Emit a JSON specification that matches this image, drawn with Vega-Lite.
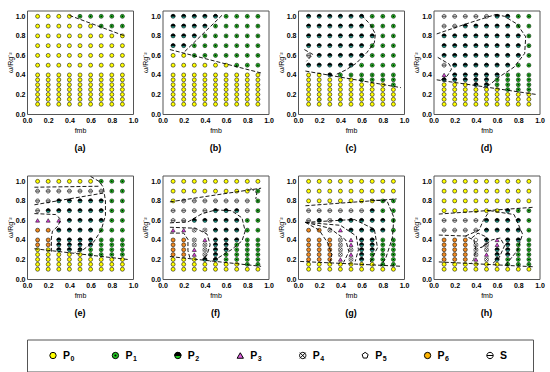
{
"$schema":"https://vega.github.io/schema/vega-lite/v6.json",
"padding":{"left":5,"top":9.5,"right":5,"bottom":5},
"config":{"font":"Liberation Sans","view":{"stroke":"#555","strokeWidth":1},
"axis":{"labelFont":"Liberation Sans","titleFont":"Liberation Sans","labelFontWeight":"bold","labelFontSize":7,"titleFontSize":7,"titleFontWeight":"normal","ticks":false,"domain":false,"grid":false,"labelPadding":2,"labelFlush":false,"labelOverlap":false,"labelColor":"#000","titleColor":"#000"}},
"spacing":20,
"resolve":{"scale":{"shape":"independent","fill":"independent"}},
"vconcat":[
{
"data":{"values":[
{"p":"a","x":0.1,"y":1,"s":"0"},{"p":"a","x":0.2,"y":1,"s":"0"},{"p":"a","x":0.3,"y":1,"s":"0"},{"p":"a","x":0.4,"y":1,"s":"0"},{"p":"a","x":0.5,"y":1,"s":"1"},{"p":"a","x":0.6,"y":1,"s":"1"},{"p":"a","x":0.7,"y":1,"s":"1"},{"p":"a","x":0.8,"y":1,"s":"1"},{"p":"a","x":0.9,"y":1,"s":"1"},
{"p":"a","x":0.1,"y":0.9,"s":"0"},{"p":"a","x":0.2,"y":0.9,"s":"0"},{"p":"a","x":0.3,"y":0.9,"s":"0"},{"p":"a","x":0.4,"y":0.9,"s":"0"},{"p":"a","x":0.5,"y":0.9,"s":"0"},{"p":"a","x":0.6,"y":0.9,"s":"0"},{"p":"a","x":0.7,"y":0.9,"s":"1"},{"p":"a","x":0.8,"y":0.9,"s":"1"},{"p":"a","x":0.9,"y":0.9,"s":"1"},
{"p":"a","x":0.1,"y":0.8,"s":"0"},{"p":"a","x":0.2,"y":0.8,"s":"0"},{"p":"a","x":0.3,"y":0.8,"s":"0"},{"p":"a","x":0.4,"y":0.8,"s":"0"},{"p":"a","x":0.5,"y":0.8,"s":"0"},{"p":"a","x":0.6,"y":0.8,"s":"0"},{"p":"a","x":0.7,"y":0.8,"s":"0"},{"p":"a","x":0.8,"y":0.8,"s":"0"},{"p":"a","x":0.9,"y":0.8,"s":"0"},
{"p":"a","x":0.1,"y":0.7,"s":"0"},{"p":"a","x":0.2,"y":0.7,"s":"0"},{"p":"a","x":0.3,"y":0.7,"s":"0"},{"p":"a","x":0.4,"y":0.7,"s":"0"},{"p":"a","x":0.5,"y":0.7,"s":"0"},{"p":"a","x":0.6,"y":0.7,"s":"0"},{"p":"a","x":0.7,"y":0.7,"s":"0"},{"p":"a","x":0.8,"y":0.7,"s":"0"},{"p":"a","x":0.9,"y":0.7,"s":"0"},
{"p":"a","x":0.1,"y":0.6,"s":"0"},{"p":"a","x":0.2,"y":0.6,"s":"0"},{"p":"a","x":0.3,"y":0.6,"s":"0"},{"p":"a","x":0.4,"y":0.6,"s":"0"},{"p":"a","x":0.5,"y":0.6,"s":"0"},{"p":"a","x":0.6,"y":0.6,"s":"0"},{"p":"a","x":0.7,"y":0.6,"s":"0"},{"p":"a","x":0.8,"y":0.6,"s":"0"},{"p":"a","x":0.9,"y":0.6,"s":"0"},
{"p":"a","x":0.1,"y":0.5,"s":"0"},{"p":"a","x":0.2,"y":0.5,"s":"0"},{"p":"a","x":0.3,"y":0.5,"s":"0"},{"p":"a","x":0.4,"y":0.5,"s":"0"},{"p":"a","x":0.5,"y":0.5,"s":"0"},{"p":"a","x":0.6,"y":0.5,"s":"0"},{"p":"a","x":0.7,"y":0.5,"s":"0"},{"p":"a","x":0.8,"y":0.5,"s":"0"},{"p":"a","x":0.9,"y":0.5,"s":"0"},
{"p":"a","x":0.1,"y":0.4,"s":"0"},{"p":"a","x":0.2,"y":0.4,"s":"0"},{"p":"a","x":0.3,"y":0.4,"s":"0"},{"p":"a","x":0.4,"y":0.4,"s":"0"},{"p":"a","x":0.5,"y":0.4,"s":"0"},{"p":"a","x":0.6,"y":0.4,"s":"0"},{"p":"a","x":0.7,"y":0.4,"s":"0"},{"p":"a","x":0.8,"y":0.4,"s":"0"},{"p":"a","x":0.9,"y":0.4,"s":"0"},
{"p":"a","x":0.1,"y":0.35,"s":"0"},{"p":"a","x":0.2,"y":0.35,"s":"0"},{"p":"a","x":0.3,"y":0.35,"s":"0"},{"p":"a","x":0.4,"y":0.35,"s":"0"},{"p":"a","x":0.5,"y":0.35,"s":"0"},{"p":"a","x":0.6,"y":0.35,"s":"0"},{"p":"a","x":0.7,"y":0.35,"s":"0"},{"p":"a","x":0.8,"y":0.35,"s":"0"},{"p":"a","x":0.9,"y":0.35,"s":"0"},
{"p":"a","x":0.1,"y":0.3,"s":"0"},{"p":"a","x":0.2,"y":0.3,"s":"0"},{"p":"a","x":0.3,"y":0.3,"s":"0"},{"p":"a","x":0.4,"y":0.3,"s":"0"},{"p":"a","x":0.5,"y":0.3,"s":"0"},{"p":"a","x":0.6,"y":0.3,"s":"0"},{"p":"a","x":0.7,"y":0.3,"s":"0"},{"p":"a","x":0.8,"y":0.3,"s":"0"},{"p":"a","x":0.9,"y":0.3,"s":"0"},
{"p":"a","x":0.1,"y":0.25,"s":"0"},{"p":"a","x":0.2,"y":0.25,"s":"0"},{"p":"a","x":0.3,"y":0.25,"s":"0"},{"p":"a","x":0.4,"y":0.25,"s":"0"},{"p":"a","x":0.5,"y":0.25,"s":"0"},{"p":"a","x":0.6,"y":0.25,"s":"0"},{"p":"a","x":0.7,"y":0.25,"s":"0"},{"p":"a","x":0.8,"y":0.25,"s":"0"},{"p":"a","x":0.9,"y":0.25,"s":"0"},
{"p":"a","x":0.1,"y":0.2,"s":"0"},{"p":"a","x":0.2,"y":0.2,"s":"0"},{"p":"a","x":0.3,"y":0.2,"s":"0"},{"p":"a","x":0.4,"y":0.2,"s":"0"},{"p":"a","x":0.5,"y":0.2,"s":"0"},{"p":"a","x":0.6,"y":0.2,"s":"0"},{"p":"a","x":0.7,"y":0.2,"s":"0"},{"p":"a","x":0.8,"y":0.2,"s":"0"},{"p":"a","x":0.9,"y":0.2,"s":"0"},
{"p":"a","x":0.1,"y":0.15,"s":"0"},{"p":"a","x":0.2,"y":0.15,"s":"0"},{"p":"a","x":0.3,"y":0.15,"s":"0"},{"p":"a","x":0.4,"y":0.15,"s":"0"},{"p":"a","x":0.5,"y":0.15,"s":"0"},{"p":"a","x":0.6,"y":0.15,"s":"0"},{"p":"a","x":0.7,"y":0.15,"s":"0"},{"p":"a","x":0.8,"y":0.15,"s":"0"},{"p":"a","x":0.9,"y":0.15,"s":"0"},
{"p":"a","x":0.1,"y":0.1,"s":"0"},{"p":"a","x":0.2,"y":0.1,"s":"0"},{"p":"a","x":0.3,"y":0.1,"s":"0"},{"p":"a","x":0.4,"y":0.1,"s":"0"},{"p":"a","x":0.5,"y":0.1,"s":"0"},{"p":"a","x":0.6,"y":0.1,"s":"0"},{"p":"a","x":0.7,"y":0.1,"s":"0"},{"p":"a","x":0.8,"y":0.1,"s":"0"},{"p":"a","x":0.9,"y":0.1,"s":"0"},

{"p":"b","x":0.1,"y":1,"s":"2"},{"p":"b","x":0.2,"y":1,"s":"2"},{"p":"b","x":0.3,"y":1,"s":"2"},{"p":"b","x":0.4,"y":1,"s":"2"},{"p":"b","x":0.5,"y":1,"s":"2"},{"p":"b","x":0.6,"y":1,"s":"1"},{"p":"b","x":0.7,"y":1,"s":"1"},{"p":"b","x":0.8,"y":1,"s":"1"},{"p":"b","x":0.9,"y":1,"s":"1"},
{"p":"b","x":0.1,"y":0.9,"s":"2"},{"p":"b","x":0.2,"y":0.9,"s":"2"},{"p":"b","x":0.3,"y":0.9,"s":"2"},{"p":"b","x":0.4,"y":0.9,"s":"2"},{"p":"b","x":0.5,"y":0.9,"s":"1"},{"p":"b","x":0.6,"y":0.9,"s":"1"},{"p":"b","x":0.7,"y":0.9,"s":"1"},{"p":"b","x":0.8,"y":0.9,"s":"1"},{"p":"b","x":0.9,"y":0.9,"s":"1"},
{"p":"b","x":0.1,"y":0.8,"s":"2"},{"p":"b","x":0.2,"y":0.8,"s":"2"},{"p":"b","x":0.3,"y":0.8,"s":"2"},{"p":"b","x":0.4,"y":0.8,"s":"1"},{"p":"b","x":0.5,"y":0.8,"s":"1"},{"p":"b","x":0.6,"y":0.8,"s":"1"},{"p":"b","x":0.7,"y":0.8,"s":"1"},{"p":"b","x":0.8,"y":0.8,"s":"1"},{"p":"b","x":0.9,"y":0.8,"s":"1"},
{"p":"b","x":0.1,"y":0.7,"s":"2"},{"p":"b","x":0.2,"y":0.7,"s":"2"},{"p":"b","x":0.3,"y":0.7,"s":"1"},{"p":"b","x":0.4,"y":0.7,"s":"1"},{"p":"b","x":0.5,"y":0.7,"s":"1"},{"p":"b","x":0.6,"y":0.7,"s":"1"},{"p":"b","x":0.7,"y":0.7,"s":"1"},{"p":"b","x":0.8,"y":0.7,"s":"1"},{"p":"b","x":0.9,"y":0.7,"s":"1"},
{"p":"b","x":0.1,"y":0.6,"s":"0"},{"p":"b","x":0.2,"y":0.6,"s":"0"},{"p":"b","x":0.3,"y":0.6,"s":"1"},{"p":"b","x":0.4,"y":0.6,"s":"1"},{"p":"b","x":0.5,"y":0.6,"s":"1"},{"p":"b","x":0.6,"y":0.6,"s":"1"},{"p":"b","x":0.7,"y":0.6,"s":"1"},{"p":"b","x":0.8,"y":0.6,"s":"1"},{"p":"b","x":0.9,"y":0.6,"s":"1"},
{"p":"b","x":0.1,"y":0.5,"s":"0"},{"p":"b","x":0.2,"y":0.5,"s":"0"},{"p":"b","x":0.3,"y":0.5,"s":"0"},{"p":"b","x":0.4,"y":0.5,"s":"0"},{"p":"b","x":0.5,"y":0.5,"s":"0"},{"p":"b","x":0.6,"y":0.5,"s":"0"},{"p":"b","x":0.7,"y":0.5,"s":"1"},{"p":"b","x":0.8,"y":0.5,"s":"1"},{"p":"b","x":0.9,"y":0.5,"s":"1"},
{"p":"b","x":0.1,"y":0.4,"s":"0"},{"p":"b","x":0.2,"y":0.4,"s":"0"},{"p":"b","x":0.3,"y":0.4,"s":"0"},{"p":"b","x":0.4,"y":0.4,"s":"0"},{"p":"b","x":0.5,"y":0.4,"s":"0"},{"p":"b","x":0.6,"y":0.4,"s":"0"},{"p":"b","x":0.7,"y":0.4,"s":"0"},{"p":"b","x":0.8,"y":0.4,"s":"0"},{"p":"b","x":0.9,"y":0.4,"s":"0"},
{"p":"b","x":0.1,"y":0.35,"s":"0"},{"p":"b","x":0.2,"y":0.35,"s":"0"},{"p":"b","x":0.3,"y":0.35,"s":"0"},{"p":"b","x":0.4,"y":0.35,"s":"0"},{"p":"b","x":0.5,"y":0.35,"s":"0"},{"p":"b","x":0.6,"y":0.35,"s":"0"},{"p":"b","x":0.7,"y":0.35,"s":"0"},{"p":"b","x":0.8,"y":0.35,"s":"0"},{"p":"b","x":0.9,"y":0.35,"s":"0"},
{"p":"b","x":0.1,"y":0.3,"s":"0"},{"p":"b","x":0.2,"y":0.3,"s":"0"},{"p":"b","x":0.3,"y":0.3,"s":"0"},{"p":"b","x":0.4,"y":0.3,"s":"0"},{"p":"b","x":0.5,"y":0.3,"s":"0"},{"p":"b","x":0.6,"y":0.3,"s":"0"},{"p":"b","x":0.7,"y":0.3,"s":"0"},{"p":"b","x":0.8,"y":0.3,"s":"0"},{"p":"b","x":0.9,"y":0.3,"s":"0"},
{"p":"b","x":0.1,"y":0.25,"s":"0"},{"p":"b","x":0.2,"y":0.25,"s":"0"},{"p":"b","x":0.3,"y":0.25,"s":"0"},{"p":"b","x":0.4,"y":0.25,"s":"0"},{"p":"b","x":0.5,"y":0.25,"s":"0"},{"p":"b","x":0.6,"y":0.25,"s":"0"},{"p":"b","x":0.7,"y":0.25,"s":"0"},{"p":"b","x":0.8,"y":0.25,"s":"0"},{"p":"b","x":0.9,"y":0.25,"s":"0"},
{"p":"b","x":0.1,"y":0.2,"s":"0"},{"p":"b","x":0.2,"y":0.2,"s":"0"},{"p":"b","x":0.3,"y":0.2,"s":"0"},{"p":"b","x":0.4,"y":0.2,"s":"0"},{"p":"b","x":0.5,"y":0.2,"s":"0"},{"p":"b","x":0.6,"y":0.2,"s":"0"},{"p":"b","x":0.7,"y":0.2,"s":"0"},{"p":"b","x":0.8,"y":0.2,"s":"0"},{"p":"b","x":0.9,"y":0.2,"s":"0"},
{"p":"b","x":0.1,"y":0.15,"s":"0"},{"p":"b","x":0.2,"y":0.15,"s":"0"},{"p":"b","x":0.3,"y":0.15,"s":"0"},{"p":"b","x":0.4,"y":0.15,"s":"0"},{"p":"b","x":0.5,"y":0.15,"s":"0"},{"p":"b","x":0.6,"y":0.15,"s":"0"},{"p":"b","x":0.7,"y":0.15,"s":"0"},{"p":"b","x":0.8,"y":0.15,"s":"0"},{"p":"b","x":0.9,"y":0.15,"s":"0"},
{"p":"b","x":0.1,"y":0.1,"s":"0"},{"p":"b","x":0.2,"y":0.1,"s":"0"},{"p":"b","x":0.3,"y":0.1,"s":"0"},{"p":"b","x":0.4,"y":0.1,"s":"0"},{"p":"b","x":0.5,"y":0.1,"s":"0"},{"p":"b","x":0.6,"y":0.1,"s":"0"},{"p":"b","x":0.7,"y":0.1,"s":"0"},{"p":"b","x":0.8,"y":0.1,"s":"0"},{"p":"b","x":0.9,"y":0.1,"s":"0"},

{"p":"c","x":0.1,"y":1,"s":"2"},{"p":"c","x":0.2,"y":1,"s":"2"},{"p":"c","x":0.3,"y":1,"s":"2"},{"p":"c","x":0.4,"y":1,"s":"2"},{"p":"c","x":0.5,"y":1,"s":"2"},{"p":"c","x":0.6,"y":1,"s":"2"},{"p":"c","x":0.7,"y":1,"s":"1"},{"p":"c","x":0.8,"y":1,"s":"1"},{"p":"c","x":0.9,"y":1,"s":"1"},
{"p":"c","x":0.1,"y":0.9,"s":"2"},{"p":"c","x":0.2,"y":0.9,"s":"2"},{"p":"c","x":0.3,"y":0.9,"s":"2"},{"p":"c","x":0.4,"y":0.9,"s":"2"},{"p":"c","x":0.5,"y":0.9,"s":"2"},{"p":"c","x":0.6,"y":0.9,"s":"2"},{"p":"c","x":0.7,"y":0.9,"s":"1"},{"p":"c","x":0.8,"y":0.9,"s":"1"},{"p":"c","x":0.9,"y":0.9,"s":"1"},
{"p":"c","x":0.1,"y":0.8,"s":"2"},{"p":"c","x":0.2,"y":0.8,"s":"2"},{"p":"c","x":0.3,"y":0.8,"s":"2"},{"p":"c","x":0.4,"y":0.8,"s":"2"},{"p":"c","x":0.5,"y":0.8,"s":"2"},{"p":"c","x":0.6,"y":0.8,"s":"2"},{"p":"c","x":0.7,"y":0.8,"s":"2"},{"p":"c","x":0.8,"y":0.8,"s":"1"},{"p":"c","x":0.9,"y":0.8,"s":"1"},
{"p":"c","x":0.1,"y":0.7,"s":"2"},{"p":"c","x":0.2,"y":0.7,"s":"2"},{"p":"c","x":0.3,"y":0.7,"s":"2"},{"p":"c","x":0.4,"y":0.7,"s":"2"},{"p":"c","x":0.5,"y":0.7,"s":"2"},{"p":"c","x":0.6,"y":0.7,"s":"2"},{"p":"c","x":0.7,"y":0.7,"s":"1"},{"p":"c","x":0.8,"y":0.7,"s":"1"},{"p":"c","x":0.9,"y":0.7,"s":"1"},
{"p":"c","x":0.1,"y":0.6,"s":"S"},{"p":"c","x":0.2,"y":0.6,"s":"2"},{"p":"c","x":0.3,"y":0.6,"s":"2"},{"p":"c","x":0.4,"y":0.6,"s":"2"},{"p":"c","x":0.5,"y":0.6,"s":"2"},{"p":"c","x":0.6,"y":0.6,"s":"2"},{"p":"c","x":0.7,"y":0.6,"s":"1"},{"p":"c","x":0.8,"y":0.6,"s":"1"},{"p":"c","x":0.9,"y":0.6,"s":"1"},
{"p":"c","x":0.1,"y":0.5,"s":"2"},{"p":"c","x":0.2,"y":0.5,"s":"2"},{"p":"c","x":0.3,"y":0.5,"s":"2"},{"p":"c","x":0.4,"y":0.5,"s":"2"},{"p":"c","x":0.5,"y":0.5,"s":"2"},{"p":"c","x":0.6,"y":0.5,"s":"1"},{"p":"c","x":0.7,"y":0.5,"s":"1"},{"p":"c","x":0.8,"y":0.5,"s":"1"},{"p":"c","x":0.9,"y":0.5,"s":"1"},
{"p":"c","x":0.1,"y":0.4,"s":"0"},{"p":"c","x":0.2,"y":0.4,"s":"0"},{"p":"c","x":0.3,"y":0.4,"s":"2"},{"p":"c","x":0.4,"y":0.4,"s":"1"},{"p":"c","x":0.5,"y":0.4,"s":"1"},{"p":"c","x":0.6,"y":0.4,"s":"1"},{"p":"c","x":0.7,"y":0.4,"s":"1"},{"p":"c","x":0.8,"y":0.4,"s":"1"},{"p":"c","x":0.9,"y":0.4,"s":"1"},
{"p":"c","x":0.1,"y":0.35,"s":"0"},{"p":"c","x":0.2,"y":0.35,"s":"0"},{"p":"c","x":0.3,"y":0.35,"s":"0"},{"p":"c","x":0.4,"y":0.35,"s":"0"},{"p":"c","x":0.5,"y":0.35,"s":"0"},{"p":"c","x":0.6,"y":0.35,"s":"1"},{"p":"c","x":0.7,"y":0.35,"s":"1"},{"p":"c","x":0.8,"y":0.35,"s":"1"},{"p":"c","x":0.9,"y":0.35,"s":"1"},
{"p":"c","x":0.1,"y":0.3,"s":"0"},{"p":"c","x":0.2,"y":0.3,"s":"0"},{"p":"c","x":0.3,"y":0.3,"s":"0"},{"p":"c","x":0.4,"y":0.3,"s":"0"},{"p":"c","x":0.5,"y":0.3,"s":"0"},{"p":"c","x":0.6,"y":0.3,"s":"0"},{"p":"c","x":0.7,"y":0.3,"s":"0"},{"p":"c","x":0.8,"y":0.3,"s":"0"},{"p":"c","x":0.9,"y":0.3,"s":"1"},
{"p":"c","x":0.1,"y":0.25,"s":"0"},{"p":"c","x":0.2,"y":0.25,"s":"0"},{"p":"c","x":0.3,"y":0.25,"s":"0"},{"p":"c","x":0.4,"y":0.25,"s":"0"},{"p":"c","x":0.5,"y":0.25,"s":"0"},{"p":"c","x":0.6,"y":0.25,"s":"0"},{"p":"c","x":0.7,"y":0.25,"s":"0"},{"p":"c","x":0.8,"y":0.25,"s":"0"},{"p":"c","x":0.9,"y":0.25,"s":"0"},
{"p":"c","x":0.1,"y":0.2,"s":"0"},{"p":"c","x":0.2,"y":0.2,"s":"0"},{"p":"c","x":0.3,"y":0.2,"s":"0"},{"p":"c","x":0.4,"y":0.2,"s":"0"},{"p":"c","x":0.5,"y":0.2,"s":"0"},{"p":"c","x":0.6,"y":0.2,"s":"0"},{"p":"c","x":0.7,"y":0.2,"s":"0"},{"p":"c","x":0.8,"y":0.2,"s":"0"},{"p":"c","x":0.9,"y":0.2,"s":"0"},
{"p":"c","x":0.1,"y":0.15,"s":"0"},{"p":"c","x":0.2,"y":0.15,"s":"0"},{"p":"c","x":0.3,"y":0.15,"s":"0"},{"p":"c","x":0.4,"y":0.15,"s":"0"},{"p":"c","x":0.5,"y":0.15,"s":"0"},{"p":"c","x":0.6,"y":0.15,"s":"0"},{"p":"c","x":0.7,"y":0.15,"s":"0"},{"p":"c","x":0.8,"y":0.15,"s":"0"},{"p":"c","x":0.9,"y":0.15,"s":"0"},
{"p":"c","x":0.1,"y":0.1,"s":"0"},{"p":"c","x":0.2,"y":0.1,"s":"0"},{"p":"c","x":0.3,"y":0.1,"s":"0"},{"p":"c","x":0.4,"y":0.1,"s":"0"},{"p":"c","x":0.5,"y":0.1,"s":"0"},{"p":"c","x":0.6,"y":0.1,"s":"0"},{"p":"c","x":0.7,"y":0.1,"s":"0"},{"p":"c","x":0.8,"y":0.1,"s":"0"},{"p":"c","x":0.9,"y":0.1,"s":"0"},

{"p":"d","x":0.1,"y":1,"s":"S"},{"p":"d","x":0.2,"y":1,"s":"S"},{"p":"d","x":0.3,"y":1,"s":"S"},{"p":"d","x":0.4,"y":1,"s":"S"},{"p":"d","x":0.5,"y":1,"s":"S"},{"p":"d","x":0.6,"y":1,"s":"2"},{"p":"d","x":0.7,"y":1,"s":"2"},{"p":"d","x":0.8,"y":1,"s":"1"},{"p":"d","x":0.9,"y":1,"s":"1"},
{"p":"d","x":0.1,"y":0.9,"s":"S"},{"p":"d","x":0.2,"y":0.9,"s":"S"},{"p":"d","x":0.3,"y":0.9,"s":"2"},{"p":"d","x":0.4,"y":0.9,"s":"2"},{"p":"d","x":0.5,"y":0.9,"s":"2"},{"p":"d","x":0.6,"y":0.9,"s":"2"},{"p":"d","x":0.7,"y":0.9,"s":"2"},{"p":"d","x":0.8,"y":0.9,"s":"1"},{"p":"d","x":0.9,"y":0.9,"s":"1"},
{"p":"d","x":0.1,"y":0.8,"s":"2"},{"p":"d","x":0.2,"y":0.8,"s":"2"},{"p":"d","x":0.3,"y":0.8,"s":"2"},{"p":"d","x":0.4,"y":0.8,"s":"2"},{"p":"d","x":0.5,"y":0.8,"s":"2"},{"p":"d","x":0.6,"y":0.8,"s":"2"},{"p":"d","x":0.7,"y":0.8,"s":"2"},{"p":"d","x":0.8,"y":0.8,"s":"2"},{"p":"d","x":0.9,"y":0.8,"s":"1"},
{"p":"d","x":0.1,"y":0.7,"s":"2"},{"p":"d","x":0.2,"y":0.7,"s":"2"},{"p":"d","x":0.3,"y":0.7,"s":"2"},{"p":"d","x":0.4,"y":0.7,"s":"2"},{"p":"d","x":0.5,"y":0.7,"s":"2"},{"p":"d","x":0.6,"y":0.7,"s":"2"},{"p":"d","x":0.7,"y":0.7,"s":"2"},{"p":"d","x":0.8,"y":0.7,"s":"2"},{"p":"d","x":0.9,"y":0.7,"s":"1"},
{"p":"d","x":0.1,"y":0.6,"s":"2"},{"p":"d","x":0.2,"y":0.6,"s":"2"},{"p":"d","x":0.3,"y":0.6,"s":"2"},{"p":"d","x":0.4,"y":0.6,"s":"2"},{"p":"d","x":0.5,"y":0.6,"s":"2"},{"p":"d","x":0.6,"y":0.6,"s":"2"},{"p":"d","x":0.7,"y":0.6,"s":"2"},{"p":"d","x":0.8,"y":0.6,"s":"2"},{"p":"d","x":0.9,"y":0.6,"s":"1"},
{"p":"d","x":0.1,"y":0.5,"s":"S"},{"p":"d","x":0.2,"y":0.5,"s":"2"},{"p":"d","x":0.3,"y":0.5,"s":"2"},{"p":"d","x":0.4,"y":0.5,"s":"2"},{"p":"d","x":0.5,"y":0.5,"s":"2"},{"p":"d","x":0.6,"y":0.5,"s":"2"},{"p":"d","x":0.7,"y":0.5,"s":"2"},{"p":"d","x":0.8,"y":0.5,"s":"1"},{"p":"d","x":0.9,"y":0.5,"s":"1"},
{"p":"d","x":0.1,"y":0.4,"s":"3"},{"p":"d","x":0.2,"y":0.4,"s":"2"},{"p":"d","x":0.3,"y":0.4,"s":"2"},{"p":"d","x":0.4,"y":0.4,"s":"2"},{"p":"d","x":0.5,"y":0.4,"s":"2"},{"p":"d","x":0.6,"y":0.4,"s":"2"},{"p":"d","x":0.7,"y":0.4,"s":"1"},{"p":"d","x":0.8,"y":0.4,"s":"1"},{"p":"d","x":0.9,"y":0.4,"s":"1"},
{"p":"d","x":0.1,"y":0.35,"s":"2"},{"p":"d","x":0.2,"y":0.35,"s":"2"},{"p":"d","x":0.3,"y":0.35,"s":"2"},{"p":"d","x":0.4,"y":0.35,"s":"2"},{"p":"d","x":0.5,"y":0.35,"s":"2"},{"p":"d","x":0.6,"y":0.35,"s":"1"},{"p":"d","x":0.7,"y":0.35,"s":"1"},{"p":"d","x":0.8,"y":0.35,"s":"1"},{"p":"d","x":0.9,"y":0.35,"s":"1"},
{"p":"d","x":0.1,"y":0.3,"s":"0"},{"p":"d","x":0.2,"y":0.3,"s":"0"},{"p":"d","x":0.3,"y":0.3,"s":"0"},{"p":"d","x":0.4,"y":0.3,"s":"2"},{"p":"d","x":0.5,"y":0.3,"s":"2"},{"p":"d","x":0.6,"y":0.3,"s":"1"},{"p":"d","x":0.7,"y":0.3,"s":"1"},{"p":"d","x":0.8,"y":0.3,"s":"1"},{"p":"d","x":0.9,"y":0.3,"s":"1"},
{"p":"d","x":0.1,"y":0.25,"s":"0"},{"p":"d","x":0.2,"y":0.25,"s":"0"},{"p":"d","x":0.3,"y":0.25,"s":"0"},{"p":"d","x":0.4,"y":0.25,"s":"0"},{"p":"d","x":0.5,"y":0.25,"s":"0"},{"p":"d","x":0.6,"y":0.25,"s":"0"},{"p":"d","x":0.7,"y":0.25,"s":"1"},{"p":"d","x":0.8,"y":0.25,"s":"1"},{"p":"d","x":0.9,"y":0.25,"s":"1"},
{"p":"d","x":0.1,"y":0.2,"s":"0"},{"p":"d","x":0.2,"y":0.2,"s":"0"},{"p":"d","x":0.3,"y":0.2,"s":"0"},{"p":"d","x":0.4,"y":0.2,"s":"0"},{"p":"d","x":0.5,"y":0.2,"s":"0"},{"p":"d","x":0.6,"y":0.2,"s":"0"},{"p":"d","x":0.7,"y":0.2,"s":"0"},{"p":"d","x":0.8,"y":0.2,"s":"0"},{"p":"d","x":0.9,"y":0.2,"s":"0"},
{"p":"d","x":0.1,"y":0.15,"s":"0"},{"p":"d","x":0.2,"y":0.15,"s":"0"},{"p":"d","x":0.3,"y":0.15,"s":"0"},{"p":"d","x":0.4,"y":0.15,"s":"0"},{"p":"d","x":0.5,"y":0.15,"s":"0"},{"p":"d","x":0.6,"y":0.15,"s":"0"},{"p":"d","x":0.7,"y":0.15,"s":"0"},{"p":"d","x":0.8,"y":0.15,"s":"0"},{"p":"d","x":0.9,"y":0.15,"s":"0"},
{"p":"d","x":0.1,"y":0.1,"s":"0"},{"p":"d","x":0.2,"y":0.1,"s":"0"},{"p":"d","x":0.3,"y":0.1,"s":"0"},{"p":"d","x":0.4,"y":0.1,"s":"0"},{"p":"d","x":0.5,"y":0.1,"s":"0"},{"p":"d","x":0.6,"y":0.1,"s":"0"},{"p":"d","x":0.7,"y":0.1,"s":"0"},{"p":"d","x":0.8,"y":0.1,"s":"0"},{"p":"d","x":0.9,"y":0.1,"s":"0"},

{"p":"e","x":0.1,"y":1,"s":"0"},{"p":"e","x":0.2,"y":1,"s":"0"},{"p":"e","x":0.3,"y":1,"s":"0"},{"p":"e","x":0.4,"y":1,"s":"0"},{"p":"e","x":0.5,"y":1,"s":"0"},{"p":"e","x":0.6,"y":1,"s":"0"},{"p":"e","x":0.7,"y":1,"s":"1"},{"p":"e","x":0.8,"y":1,"s":"1"},{"p":"e","x":0.9,"y":1,"s":"1"},
{"p":"e","x":0.1,"y":0.9,"s":"S"},{"p":"e","x":0.2,"y":0.9,"s":"S"},{"p":"e","x":0.3,"y":0.9,"s":"S"},{"p":"e","x":0.4,"y":0.9,"s":"S"},{"p":"e","x":0.5,"y":0.9,"s":"S"},{"p":"e","x":0.6,"y":0.9,"s":"S"},{"p":"e","x":0.7,"y":0.9,"s":"S"},{"p":"e","x":0.8,"y":0.9,"s":"1"},{"p":"e","x":0.9,"y":0.9,"s":"1"},
{"p":"e","x":0.1,"y":0.8,"s":"S"},{"p":"e","x":0.2,"y":0.8,"s":"S"},{"p":"e","x":0.3,"y":0.8,"s":"2"},{"p":"e","x":0.4,"y":0.8,"s":"2"},{"p":"e","x":0.5,"y":0.8,"s":"2"},{"p":"e","x":0.6,"y":0.8,"s":"2"},{"p":"e","x":0.7,"y":0.8,"s":"2"},{"p":"e","x":0.8,"y":0.8,"s":"1"},{"p":"e","x":0.9,"y":0.8,"s":"1"},
{"p":"e","x":0.1,"y":0.7,"s":"S"},{"p":"e","x":0.2,"y":0.7,"s":"2"},{"p":"e","x":0.3,"y":0.7,"s":"2"},{"p":"e","x":0.4,"y":0.7,"s":"2"},{"p":"e","x":0.5,"y":0.7,"s":"2"},{"p":"e","x":0.6,"y":0.7,"s":"2"},{"p":"e","x":0.7,"y":0.7,"s":"2"},{"p":"e","x":0.8,"y":0.7,"s":"1"},{"p":"e","x":0.9,"y":0.7,"s":"1"},
{"p":"e","x":0.1,"y":0.6,"s":"3"},{"p":"e","x":0.2,"y":0.6,"s":"3"},{"p":"e","x":0.3,"y":0.6,"s":"3"},{"p":"e","x":0.4,"y":0.6,"s":"2"},{"p":"e","x":0.5,"y":0.6,"s":"2"},{"p":"e","x":0.6,"y":0.6,"s":"2"},{"p":"e","x":0.7,"y":0.6,"s":"2"},{"p":"e","x":0.8,"y":0.6,"s":"1"},{"p":"e","x":0.9,"y":0.6,"s":"1"},
{"p":"e","x":0.1,"y":0.5,"s":"6"},{"p":"e","x":0.2,"y":0.5,"s":"6"},{"p":"e","x":0.3,"y":0.5,"s":"2"},{"p":"e","x":0.4,"y":0.5,"s":"2"},{"p":"e","x":0.5,"y":0.5,"s":"2"},{"p":"e","x":0.6,"y":0.5,"s":"2"},{"p":"e","x":0.7,"y":0.5,"s":"1"},{"p":"e","x":0.8,"y":0.5,"s":"1"},{"p":"e","x":0.9,"y":0.5,"s":"1"},
{"p":"e","x":0.1,"y":0.4,"s":"6"},{"p":"e","x":0.2,"y":0.4,"s":"6"},{"p":"e","x":0.3,"y":0.4,"s":"2"},{"p":"e","x":0.4,"y":0.4,"s":"2"},{"p":"e","x":0.5,"y":0.4,"s":"2"},{"p":"e","x":0.6,"y":0.4,"s":"2"},{"p":"e","x":0.7,"y":0.4,"s":"1"},{"p":"e","x":0.8,"y":0.4,"s":"1"},{"p":"e","x":0.9,"y":0.4,"s":"1"},
{"p":"e","x":0.1,"y":0.35,"s":"6"},{"p":"e","x":0.2,"y":0.35,"s":"6"},{"p":"e","x":0.3,"y":0.35,"s":"2"},{"p":"e","x":0.4,"y":0.35,"s":"2"},{"p":"e","x":0.5,"y":0.35,"s":"2"},{"p":"e","x":0.6,"y":0.35,"s":"2"},{"p":"e","x":0.7,"y":0.35,"s":"1"},{"p":"e","x":0.8,"y":0.35,"s":"1"},{"p":"e","x":0.9,"y":0.35,"s":"1"},
{"p":"e","x":0.1,"y":0.3,"s":"0"},{"p":"e","x":0.2,"y":0.3,"s":"0"},{"p":"e","x":0.3,"y":0.3,"s":"2"},{"p":"e","x":0.4,"y":0.3,"s":"2"},{"p":"e","x":0.5,"y":0.3,"s":"2"},{"p":"e","x":0.6,"y":0.3,"s":"1"},{"p":"e","x":0.7,"y":0.3,"s":"1"},{"p":"e","x":0.8,"y":0.3,"s":"1"},{"p":"e","x":0.9,"y":0.3,"s":"1"},
{"p":"e","x":0.1,"y":0.25,"s":"0"},{"p":"e","x":0.2,"y":0.25,"s":"0"},{"p":"e","x":0.3,"y":0.25,"s":"0"},{"p":"e","x":0.4,"y":0.25,"s":"0"},{"p":"e","x":0.5,"y":0.25,"s":"0"},{"p":"e","x":0.6,"y":0.25,"s":"1"},{"p":"e","x":0.7,"y":0.25,"s":"1"},{"p":"e","x":0.8,"y":0.25,"s":"1"},{"p":"e","x":0.9,"y":0.25,"s":"1"},
{"p":"e","x":0.1,"y":0.2,"s":"0"},{"p":"e","x":0.2,"y":0.2,"s":"0"},{"p":"e","x":0.3,"y":0.2,"s":"0"},{"p":"e","x":0.4,"y":0.2,"s":"0"},{"p":"e","x":0.5,"y":0.2,"s":"0"},{"p":"e","x":0.6,"y":0.2,"s":"0"},{"p":"e","x":0.7,"y":0.2,"s":"0"},{"p":"e","x":0.8,"y":0.2,"s":"0"},{"p":"e","x":0.9,"y":0.2,"s":"0"},
{"p":"e","x":0.1,"y":0.15,"s":"0"},{"p":"e","x":0.2,"y":0.15,"s":"0"},{"p":"e","x":0.3,"y":0.15,"s":"0"},{"p":"e","x":0.4,"y":0.15,"s":"0"},{"p":"e","x":0.5,"y":0.15,"s":"0"},{"p":"e","x":0.6,"y":0.15,"s":"0"},{"p":"e","x":0.7,"y":0.15,"s":"0"},{"p":"e","x":0.8,"y":0.15,"s":"0"},{"p":"e","x":0.9,"y":0.15,"s":"0"},
{"p":"e","x":0.1,"y":0.1,"s":"0"},{"p":"e","x":0.2,"y":0.1,"s":"0"},{"p":"e","x":0.3,"y":0.1,"s":"0"},{"p":"e","x":0.4,"y":0.1,"s":"0"},{"p":"e","x":0.5,"y":0.1,"s":"0"},{"p":"e","x":0.6,"y":0.1,"s":"0"},{"p":"e","x":0.7,"y":0.1,"s":"0"},{"p":"e","x":0.8,"y":0.1,"s":"0"},{"p":"e","x":0.9,"y":0.1,"s":"0"},

{"p":"f","x":0.1,"y":1,"s":"0"},{"p":"f","x":0.2,"y":1,"s":"0"},{"p":"f","x":0.3,"y":1,"s":"0"},{"p":"f","x":0.4,"y":1,"s":"0"},{"p":"f","x":0.5,"y":1,"s":"0"},{"p":"f","x":0.6,"y":1,"s":"0"},{"p":"f","x":0.7,"y":1,"s":"0"},{"p":"f","x":0.8,"y":1,"s":"0"},{"p":"f","x":0.9,"y":1,"s":"0"},
{"p":"f","x":0.1,"y":0.9,"s":"0"},{"p":"f","x":0.2,"y":0.9,"s":"0"},{"p":"f","x":0.3,"y":0.9,"s":"0"},{"p":"f","x":0.4,"y":0.9,"s":"0"},{"p":"f","x":0.5,"y":0.9,"s":"0"},{"p":"f","x":0.6,"y":0.9,"s":"0"},{"p":"f","x":0.7,"y":0.9,"s":"0"},{"p":"f","x":0.8,"y":0.9,"s":"0"},{"p":"f","x":0.9,"y":0.9,"s":"1"},
{"p":"f","x":0.1,"y":0.8,"s":"0"},{"p":"f","x":0.2,"y":0.8,"s":"S"},{"p":"f","x":0.3,"y":0.8,"s":"S"},{"p":"f","x":0.4,"y":0.8,"s":"S"},{"p":"f","x":0.5,"y":0.8,"s":"S"},{"p":"f","x":0.6,"y":0.8,"s":"S"},{"p":"f","x":0.7,"y":0.8,"s":"S"},{"p":"f","x":0.8,"y":0.8,"s":"S"},{"p":"f","x":0.9,"y":0.8,"s":"1"},
{"p":"f","x":0.1,"y":0.7,"s":"S"},{"p":"f","x":0.2,"y":0.7,"s":"S"},{"p":"f","x":0.3,"y":0.7,"s":"S"},{"p":"f","x":0.4,"y":0.7,"s":"S"},{"p":"f","x":0.5,"y":0.7,"s":"2"},{"p":"f","x":0.6,"y":0.7,"s":"2"},{"p":"f","x":0.7,"y":0.7,"s":"2"},{"p":"f","x":0.8,"y":0.7,"s":"S"},{"p":"f","x":0.9,"y":0.7,"s":"1"},
{"p":"f","x":0.1,"y":0.6,"s":"S"},{"p":"f","x":0.2,"y":0.6,"s":"S"},{"p":"f","x":0.3,"y":0.6,"s":"2"},{"p":"f","x":0.4,"y":0.6,"s":"2"},{"p":"f","x":0.5,"y":0.6,"s":"2"},{"p":"f","x":0.6,"y":0.6,"s":"2"},{"p":"f","x":0.7,"y":0.6,"s":"2"},{"p":"f","x":0.8,"y":0.6,"s":"1"},{"p":"f","x":0.9,"y":0.6,"s":"1"},
{"p":"f","x":0.1,"y":0.5,"s":"3"},{"p":"f","x":0.2,"y":0.5,"s":"3"},{"p":"f","x":0.3,"y":0.5,"s":"4"},{"p":"f","x":0.4,"y":0.5,"s":"4"},{"p":"f","x":0.5,"y":0.5,"s":"2"},{"p":"f","x":0.6,"y":0.5,"s":"2"},{"p":"f","x":0.7,"y":0.5,"s":"2"},{"p":"f","x":0.8,"y":0.5,"s":"1"},{"p":"f","x":0.9,"y":0.5,"s":"1"},
{"p":"f","x":0.1,"y":0.4,"s":"6"},{"p":"f","x":0.2,"y":0.4,"s":"6"},{"p":"f","x":0.3,"y":0.4,"s":"4"},{"p":"f","x":0.4,"y":0.4,"s":"3"},{"p":"f","x":0.5,"y":0.4,"s":"2"},{"p":"f","x":0.6,"y":0.4,"s":"2"},{"p":"f","x":0.7,"y":0.4,"s":"2"},{"p":"f","x":0.8,"y":0.4,"s":"1"},{"p":"f","x":0.9,"y":0.4,"s":"1"},
{"p":"f","x":0.1,"y":0.35,"s":"6"},{"p":"f","x":0.2,"y":0.35,"s":"6"},{"p":"f","x":0.3,"y":0.35,"s":"4"},{"p":"f","x":0.4,"y":0.35,"s":"4"},{"p":"f","x":0.5,"y":0.35,"s":"2"},{"p":"f","x":0.6,"y":0.35,"s":"2"},{"p":"f","x":0.7,"y":0.35,"s":"1"},{"p":"f","x":0.8,"y":0.35,"s":"1"},{"p":"f","x":0.9,"y":0.35,"s":"1"},
{"p":"f","x":0.1,"y":0.3,"s":"6"},{"p":"f","x":0.2,"y":0.3,"s":"6"},{"p":"f","x":0.3,"y":0.3,"s":"3"},{"p":"f","x":0.4,"y":0.3,"s":"4"},{"p":"f","x":0.5,"y":0.3,"s":"2"},{"p":"f","x":0.6,"y":0.3,"s":"2"},{"p":"f","x":0.7,"y":0.3,"s":"1"},{"p":"f","x":0.8,"y":0.3,"s":"1"},{"p":"f","x":0.9,"y":0.3,"s":"1"},
{"p":"f","x":0.1,"y":0.25,"s":"6"},{"p":"f","x":0.2,"y":0.25,"s":"6"},{"p":"f","x":0.3,"y":0.25,"s":"3"},{"p":"f","x":0.4,"y":0.25,"s":"4"},{"p":"f","x":0.5,"y":0.25,"s":"2"},{"p":"f","x":0.6,"y":0.25,"s":"1"},{"p":"f","x":0.7,"y":0.25,"s":"1"},{"p":"f","x":0.8,"y":0.25,"s":"1"},{"p":"f","x":0.9,"y":0.25,"s":"1"},
{"p":"f","x":0.1,"y":0.2,"s":"0"},{"p":"f","x":0.2,"y":0.2,"s":"0"},{"p":"f","x":0.3,"y":0.2,"s":"0"},{"p":"f","x":0.4,"y":0.2,"s":"2"},{"p":"f","x":0.5,"y":0.2,"s":"2"},{"p":"f","x":0.6,"y":0.2,"s":"1"},{"p":"f","x":0.7,"y":0.2,"s":"1"},{"p":"f","x":0.8,"y":0.2,"s":"1"},{"p":"f","x":0.9,"y":0.2,"s":"1"},
{"p":"f","x":0.1,"y":0.15,"s":"0"},{"p":"f","x":0.2,"y":0.15,"s":"0"},{"p":"f","x":0.3,"y":0.15,"s":"0"},{"p":"f","x":0.4,"y":0.15,"s":"0"},{"p":"f","x":0.5,"y":0.15,"s":"0"},{"p":"f","x":0.6,"y":0.15,"s":"0"},{"p":"f","x":0.7,"y":0.15,"s":"0"},{"p":"f","x":0.8,"y":0.15,"s":"1"},{"p":"f","x":0.9,"y":0.15,"s":"1"},
{"p":"f","x":0.1,"y":0.1,"s":"0"},{"p":"f","x":0.2,"y":0.1,"s":"0"},{"p":"f","x":0.3,"y":0.1,"s":"0"},{"p":"f","x":0.4,"y":0.1,"s":"0"},{"p":"f","x":0.5,"y":0.1,"s":"0"},{"p":"f","x":0.6,"y":0.1,"s":"0"},{"p":"f","x":0.7,"y":0.1,"s":"0"},{"p":"f","x":0.8,"y":0.1,"s":"0"},{"p":"f","x":0.9,"y":0.1,"s":"0"},

{"p":"g","x":0.1,"y":1,"s":"0"},{"p":"g","x":0.2,"y":1,"s":"0"},{"p":"g","x":0.3,"y":1,"s":"0"},{"p":"g","x":0.4,"y":1,"s":"0"},{"p":"g","x":0.5,"y":1,"s":"0"},{"p":"g","x":0.6,"y":1,"s":"0"},{"p":"g","x":0.7,"y":1,"s":"0"},{"p":"g","x":0.8,"y":1,"s":"0"},{"p":"g","x":0.9,"y":1,"s":"0"},
{"p":"g","x":0.1,"y":0.9,"s":"0"},{"p":"g","x":0.2,"y":0.9,"s":"0"},{"p":"g","x":0.3,"y":0.9,"s":"0"},{"p":"g","x":0.4,"y":0.9,"s":"0"},{"p":"g","x":0.5,"y":0.9,"s":"0"},{"p":"g","x":0.6,"y":0.9,"s":"0"},{"p":"g","x":0.7,"y":0.9,"s":"0"},{"p":"g","x":0.8,"y":0.9,"s":"0"},{"p":"g","x":0.9,"y":0.9,"s":"0"},
{"p":"g","x":0.1,"y":0.8,"s":"0"},{"p":"g","x":0.2,"y":0.8,"s":"0"},{"p":"g","x":0.3,"y":0.8,"s":"0"},{"p":"g","x":0.4,"y":0.8,"s":"0"},{"p":"g","x":0.5,"y":0.8,"s":"0"},{"p":"g","x":0.6,"y":0.8,"s":"0"},{"p":"g","x":0.7,"y":0.8,"s":"0"},{"p":"g","x":0.8,"y":0.8,"s":"1"},{"p":"g","x":0.9,"y":0.8,"s":"1"},
{"p":"g","x":0.1,"y":0.7,"s":"S"},{"p":"g","x":0.2,"y":0.7,"s":"S"},{"p":"g","x":0.3,"y":0.7,"s":"S"},{"p":"g","x":0.4,"y":0.7,"s":"S"},{"p":"g","x":0.5,"y":0.7,"s":"S"},{"p":"g","x":0.6,"y":0.7,"s":"S"},{"p":"g","x":0.7,"y":0.7,"s":"2"},{"p":"g","x":0.8,"y":0.7,"s":"1"},{"p":"g","x":0.9,"y":0.7,"s":"1"},
{"p":"g","x":0.1,"y":0.6,"s":"S"},{"p":"g","x":0.2,"y":0.6,"s":"2"},{"p":"g","x":0.3,"y":0.6,"s":"4"},{"p":"g","x":0.4,"y":0.6,"s":"2"},{"p":"g","x":0.5,"y":0.6,"s":"2"},{"p":"g","x":0.6,"y":0.6,"s":"2"},{"p":"g","x":0.7,"y":0.6,"s":"2"},{"p":"g","x":0.8,"y":0.6,"s":"2"},{"p":"g","x":0.9,"y":0.6,"s":"1"},
{"p":"g","x":0.1,"y":0.5,"s":"6"},{"p":"g","x":0.2,"y":0.5,"s":"6"},{"p":"g","x":0.3,"y":0.5,"s":"4"},{"p":"g","x":0.4,"y":0.5,"s":"3"},{"p":"g","x":0.5,"y":0.5,"s":"2"},{"p":"g","x":0.6,"y":0.5,"s":"2"},{"p":"g","x":0.7,"y":0.5,"s":"2"},{"p":"g","x":0.8,"y":0.5,"s":"2"},{"p":"g","x":0.9,"y":0.5,"s":"1"},
{"p":"g","x":0.1,"y":0.4,"s":"6"},{"p":"g","x":0.2,"y":0.4,"s":"6"},{"p":"g","x":0.3,"y":0.4,"s":"6"},{"p":"g","x":0.4,"y":0.4,"s":"4"},{"p":"g","x":0.5,"y":0.4,"s":"3"},{"p":"g","x":0.6,"y":0.4,"s":"2"},{"p":"g","x":0.7,"y":0.4,"s":"2"},{"p":"g","x":0.8,"y":0.4,"s":"1"},{"p":"g","x":0.9,"y":0.4,"s":"1"},
{"p":"g","x":0.1,"y":0.35,"s":"6"},{"p":"g","x":0.2,"y":0.35,"s":"6"},{"p":"g","x":0.3,"y":0.35,"s":"6"},{"p":"g","x":0.4,"y":0.35,"s":"4"},{"p":"g","x":0.5,"y":0.35,"s":"3"},{"p":"g","x":0.6,"y":0.35,"s":"2"},{"p":"g","x":0.7,"y":0.35,"s":"2"},{"p":"g","x":0.8,"y":0.35,"s":"1"},{"p":"g","x":0.9,"y":0.35,"s":"1"},
{"p":"g","x":0.1,"y":0.3,"s":"6"},{"p":"g","x":0.2,"y":0.3,"s":"6"},{"p":"g","x":0.3,"y":0.3,"s":"6"},{"p":"g","x":0.4,"y":0.3,"s":"4"},{"p":"g","x":0.5,"y":0.3,"s":"4"},{"p":"g","x":0.6,"y":0.3,"s":"2"},{"p":"g","x":0.7,"y":0.3,"s":"2"},{"p":"g","x":0.8,"y":0.3,"s":"1"},{"p":"g","x":0.9,"y":0.3,"s":"1"},
{"p":"g","x":0.1,"y":0.25,"s":"6"},{"p":"g","x":0.2,"y":0.25,"s":"6"},{"p":"g","x":0.3,"y":0.25,"s":"6"},{"p":"g","x":0.4,"y":0.25,"s":"4"},{"p":"g","x":0.5,"y":0.25,"s":"3"},{"p":"g","x":0.6,"y":0.25,"s":"2"},{"p":"g","x":0.7,"y":0.25,"s":"1"},{"p":"g","x":0.8,"y":0.25,"s":"1"},{"p":"g","x":0.9,"y":0.25,"s":"1"},
{"p":"g","x":0.1,"y":0.2,"s":"6"},{"p":"g","x":0.2,"y":0.2,"s":"6"},{"p":"g","x":0.3,"y":0.2,"s":"6"},{"p":"g","x":0.4,"y":0.2,"s":"3"},{"p":"g","x":0.5,"y":0.2,"s":"4"},{"p":"g","x":0.6,"y":0.2,"s":"2"},{"p":"g","x":0.7,"y":0.2,"s":"1"},{"p":"g","x":0.8,"y":0.2,"s":"1"},{"p":"g","x":0.9,"y":0.2,"s":"1"},
{"p":"g","x":0.1,"y":0.15,"s":"0"},{"p":"g","x":0.2,"y":0.15,"s":"0"},{"p":"g","x":0.3,"y":0.15,"s":"0"},{"p":"g","x":0.4,"y":0.15,"s":"0"},{"p":"g","x":0.5,"y":0.15,"s":"0"},{"p":"g","x":0.6,"y":0.15,"s":"0"},{"p":"g","x":0.7,"y":0.15,"s":"0"},{"p":"g","x":0.8,"y":0.15,"s":"1"},{"p":"g","x":0.9,"y":0.15,"s":"1"},
{"p":"g","x":0.1,"y":0.1,"s":"0"},{"p":"g","x":0.2,"y":0.1,"s":"0"},{"p":"g","x":0.3,"y":0.1,"s":"0"},{"p":"g","x":0.4,"y":0.1,"s":"0"},{"p":"g","x":0.5,"y":0.1,"s":"0"},{"p":"g","x":0.6,"y":0.1,"s":"0"},{"p":"g","x":0.7,"y":0.1,"s":"0"},{"p":"g","x":0.8,"y":0.1,"s":"0"},{"p":"g","x":0.9,"y":0.1,"s":"0"},

{"p":"h","x":0.1,"y":1,"s":"0"},{"p":"h","x":0.2,"y":1,"s":"0"},{"p":"h","x":0.3,"y":1,"s":"0"},{"p":"h","x":0.4,"y":1,"s":"0"},{"p":"h","x":0.5,"y":1,"s":"0"},{"p":"h","x":0.6,"y":1,"s":"0"},{"p":"h","x":0.7,"y":1,"s":"0"},{"p":"h","x":0.8,"y":1,"s":"0"},{"p":"h","x":0.9,"y":1,"s":"0"},
{"p":"h","x":0.1,"y":0.9,"s":"0"},{"p":"h","x":0.2,"y":0.9,"s":"0"},{"p":"h","x":0.3,"y":0.9,"s":"0"},{"p":"h","x":0.4,"y":0.9,"s":"0"},{"p":"h","x":0.5,"y":0.9,"s":"0"},{"p":"h","x":0.6,"y":0.9,"s":"0"},{"p":"h","x":0.7,"y":0.9,"s":"0"},{"p":"h","x":0.8,"y":0.9,"s":"0"},{"p":"h","x":0.9,"y":0.9,"s":"0"},
{"p":"h","x":0.1,"y":0.8,"s":"0"},{"p":"h","x":0.2,"y":0.8,"s":"0"},{"p":"h","x":0.3,"y":0.8,"s":"0"},{"p":"h","x":0.4,"y":0.8,"s":"0"},{"p":"h","x":0.5,"y":0.8,"s":"0"},{"p":"h","x":0.6,"y":0.8,"s":"0"},{"p":"h","x":0.7,"y":0.8,"s":"0"},{"p":"h","x":0.8,"y":0.8,"s":"0"},{"p":"h","x":0.9,"y":0.8,"s":"0"},
{"p":"h","x":0.1,"y":0.7,"s":"0"},{"p":"h","x":0.2,"y":0.7,"s":"0"},{"p":"h","x":0.3,"y":0.7,"s":"0"},{"p":"h","x":0.4,"y":0.7,"s":"0"},{"p":"h","x":0.5,"y":0.7,"s":"0"},{"p":"h","x":0.6,"y":0.7,"s":"0"},{"p":"h","x":0.7,"y":0.7,"s":"2"},{"p":"h","x":0.8,"y":0.7,"s":"1"},{"p":"h","x":0.9,"y":0.7,"s":"1"},
{"p":"h","x":0.1,"y":0.6,"s":"S"},{"p":"h","x":0.2,"y":0.6,"s":"S"},{"p":"h","x":0.3,"y":0.6,"s":"S"},{"p":"h","x":0.4,"y":0.6,"s":"S"},{"p":"h","x":0.5,"y":0.6,"s":"2"},{"p":"h","x":0.6,"y":0.6,"s":"2"},{"p":"h","x":0.7,"y":0.6,"s":"2"},{"p":"h","x":0.8,"y":0.6,"s":"2"},{"p":"h","x":0.9,"y":0.6,"s":"1"},
{"p":"h","x":0.1,"y":0.5,"s":"S"},{"p":"h","x":0.2,"y":0.5,"s":"S"},{"p":"h","x":0.3,"y":0.5,"s":"S"},{"p":"h","x":0.4,"y":0.5,"s":"S"},{"p":"h","x":0.5,"y":0.5,"s":"2"},{"p":"h","x":0.6,"y":0.5,"s":"2"},{"p":"h","x":0.7,"y":0.5,"s":"2"},{"p":"h","x":0.8,"y":0.5,"s":"2"},{"p":"h","x":0.9,"y":0.5,"s":"1"},
{"p":"h","x":0.1,"y":0.4,"s":"6"},{"p":"h","x":0.2,"y":0.4,"s":"6"},{"p":"h","x":0.3,"y":0.4,"s":"6"},{"p":"h","x":0.4,"y":0.4,"s":"5"},{"p":"h","x":0.5,"y":0.4,"s":"2"},{"p":"h","x":0.6,"y":0.4,"s":"3"},{"p":"h","x":0.7,"y":0.4,"s":"2"},{"p":"h","x":0.8,"y":0.4,"s":"2"},{"p":"h","x":0.9,"y":0.4,"s":"1"},
{"p":"h","x":0.1,"y":0.35,"s":"6"},{"p":"h","x":0.2,"y":0.35,"s":"6"},{"p":"h","x":0.3,"y":0.35,"s":"6"},{"p":"h","x":0.4,"y":0.35,"s":"4"},{"p":"h","x":0.5,"y":0.35,"s":"4"},{"p":"h","x":0.6,"y":0.35,"s":"3"},{"p":"h","x":0.7,"y":0.35,"s":"2"},{"p":"h","x":0.8,"y":0.35,"s":"1"},{"p":"h","x":0.9,"y":0.35,"s":"1"},
{"p":"h","x":0.1,"y":0.3,"s":"6"},{"p":"h","x":0.2,"y":0.3,"s":"6"},{"p":"h","x":0.3,"y":0.3,"s":"6"},{"p":"h","x":0.4,"y":0.3,"s":"4"},{"p":"h","x":0.5,"y":0.3,"s":"4"},{"p":"h","x":0.6,"y":0.3,"s":"2"},{"p":"h","x":0.7,"y":0.3,"s":"2"},{"p":"h","x":0.8,"y":0.3,"s":"1"},{"p":"h","x":0.9,"y":0.3,"s":"1"},
{"p":"h","x":0.1,"y":0.25,"s":"6"},{"p":"h","x":0.2,"y":0.25,"s":"6"},{"p":"h","x":0.3,"y":0.25,"s":"6"},{"p":"h","x":0.4,"y":0.25,"s":"4"},{"p":"h","x":0.5,"y":0.25,"s":"3"},{"p":"h","x":0.6,"y":0.25,"s":"2"},{"p":"h","x":0.7,"y":0.25,"s":"2"},{"p":"h","x":0.8,"y":0.25,"s":"1"},{"p":"h","x":0.9,"y":0.25,"s":"1"},
{"p":"h","x":0.1,"y":0.2,"s":"6"},{"p":"h","x":0.2,"y":0.2,"s":"6"},{"p":"h","x":0.3,"y":0.2,"s":"6"},{"p":"h","x":0.4,"y":0.2,"s":"3"},{"p":"h","x":0.5,"y":0.2,"s":"4"},{"p":"h","x":0.6,"y":0.2,"s":"2"},{"p":"h","x":0.7,"y":0.2,"s":"1"},{"p":"h","x":0.8,"y":0.2,"s":"1"},{"p":"h","x":0.9,"y":0.2,"s":"1"},
{"p":"h","x":0.1,"y":0.15,"s":"0"},{"p":"h","x":0.2,"y":0.15,"s":"0"},{"p":"h","x":0.3,"y":0.15,"s":"0"},{"p":"h","x":0.4,"y":0.15,"s":"0"},{"p":"h","x":0.5,"y":0.15,"s":"0"},{"p":"h","x":0.6,"y":0.15,"s":"0"},{"p":"h","x":0.7,"y":0.15,"s":"1"},{"p":"h","x":0.8,"y":0.15,"s":"1"},{"p":"h","x":0.9,"y":0.15,"s":"1"},
{"p":"h","x":0.1,"y":0.1,"s":"0"},{"p":"h","x":0.2,"y":0.1,"s":"0"},{"p":"h","x":0.3,"y":0.1,"s":"0"},{"p":"h","x":0.4,"y":0.1,"s":"0"},{"p":"h","x":0.5,"y":0.1,"s":"0"},{"p":"h","x":0.6,"y":0.1,"s":"0"},{"p":"h","x":0.7,"y":0.1,"s":"0"},{"p":"h","x":0.8,"y":0.1,"s":"0"},{"p":"h","x":0.9,"y":0.1,"s":"0"},

{"p":"a","g":1,"x":0.4,"y":1.01},{"p":"a","g":1,"x":0.92,"y":0.8},
{"p":"b","g":1,"x":0.21,"y":0.64},{"p":"b","g":1,"x":0.57,"y":1.02},
{"p":"b","g":2,"x":0.07,"y":0.66},{"p":"b","g":2,"x":0.93,"y":0.42},
{"p":"c","g":1,"x":0.07,"y":0.44},{"p":"c","g":1,"x":0.97,"y":0.27},
{"p":"c","g":2,"x":0.6,"y":1.01},{"p":"c","g":2,"x":0.68,"y":0.92},{"p":"c","g":2,"x":0.73,"y":0.82},{"p":"c","g":2,"x":0.72,"y":0.73},{"p":"c","g":2,"x":0.65,"y":0.63},{"p":"c","g":2,"x":0.55,"y":0.52},{"p":"c","g":2,"x":0.45,"y":0.45},{"p":"c","g":2,"x":0.35,"y":0.4},
{"p":"c","g":3,"x":0.06,"y":0.66},{"p":"c","g":3,"x":0.14,"y":0.61},{"p":"c","g":3,"x":0.08,"y":0.54},
{"p":"d","g":1,"x":0.03,"y":0.82},{"p":"d","g":1,"x":0.3,"y":0.92},{"p":"d","g":1,"x":0.59,"y":1.02},
{"p":"d","g":2,"x":0.59,"y":1.02},{"p":"d","g":2,"x":0.67,"y":1.0},{"p":"d","g":2,"x":0.79,"y":0.92},{"p":"d","g":2,"x":0.87,"y":0.79},{"p":"d","g":2,"x":0.86,"y":0.62},{"p":"d","g":2,"x":0.76,"y":0.48},{"p":"d","g":2,"x":0.62,"y":0.38},{"p":"d","g":2,"x":0.53,"y":0.3},{"p":"d","g":2,"x":0.47,"y":0.27},
{"p":"d","g":3,"x":0.04,"y":0.58},{"p":"d","g":3,"x":0.15,"y":0.51},{"p":"d","g":3,"x":0.17,"y":0.46},{"p":"d","g":3,"x":0.13,"y":0.39},{"p":"d","g":3,"x":0.06,"y":0.34},
{"p":"d","g":4,"x":0.03,"y":0.35},{"p":"d","g":4,"x":0.97,"y":0.2},
{"p":"e","g":1,"x":0.07,"y":0.94},{"p":"e","g":1,"x":0.68,"y":0.95},
{"p":"e","g":2,"x":0.07,"y":0.76},{"p":"e","g":2,"x":0.72,"y":0.88},
{"p":"e","g":3,"x":0.6,"y":1.05},{"p":"e","g":3,"x":0.68,"y":1.0},{"p":"e","g":3,"x":0.72,"y":0.94},{"p":"e","g":3,"x":0.74,"y":0.8},{"p":"e","g":3,"x":0.74,"y":0.65},{"p":"e","g":3,"x":0.7,"y":0.5},{"p":"e","g":3,"x":0.63,"y":0.38},{"p":"e","g":3,"x":0.53,"y":0.3},{"p":"e","g":3,"x":0.45,"y":0.27},
{"p":"e","g":4,"x":0.07,"y":0.67},{"p":"e","g":4,"x":0.27,"y":0.66},{"p":"e","g":4,"x":0.32,"y":0.61},{"p":"e","g":4,"x":0.29,"y":0.54},{"p":"e","g":4,"x":0.24,"y":0.49},{"p":"e","g":4,"x":0.23,"y":0.42},{"p":"e","g":4,"x":0.23,"y":0.28},
{"p":"e","g":5,"x":0.07,"y":0.31},{"p":"e","g":5,"x":0.95,"y":0.2},
{"p":"f","g":1,"x":0.07,"y":0.79},{"p":"f","g":1,"x":0.93,"y":0.93},
{"p":"f","g":2,"x":0.83,"y":0.93},{"p":"f","g":2,"x":0.89,"y":0.88},{"p":"f","g":2,"x":0.88,"y":0.82},
{"p":"f","g":3,"x":0.07,"y":0.575},{"p":"f","g":3,"x":0.24,"y":0.585},{"p":"f","g":3,"x":0.37,"y":0.667},{"p":"f","g":3,"x":0.5,"y":0.707},{"p":"f","g":3,"x":0.65,"y":0.7},{"p":"f","g":3,"x":0.75,"y":0.626},{"p":"f","g":3,"x":0.78,"y":0.49},{"p":"f","g":3,"x":0.75,"y":0.39},{"p":"f","g":3,"x":0.65,"y":0.3},{"p":"f","g":3,"x":0.53,"y":0.22},{"p":"f","g":3,"x":0.45,"y":0.18},
{"p":"f","g":4,"x":0.07,"y":0.47},{"p":"f","g":4,"x":0.2,"y":0.47},{"p":"f","g":4,"x":0.24,"y":0.405},{"p":"f","g":4,"x":0.24,"y":0.29},{"p":"f","g":4,"x":0.26,"y":0.21},
{"p":"f","g":5,"x":0.07,"y":0.53},{"p":"f","g":5,"x":0.31,"y":0.52},{"p":"f","g":5,"x":0.42,"y":0.46},{"p":"f","g":5,"x":0.45,"y":0.35},{"p":"f","g":5,"x":0.42,"y":0.25},{"p":"f","g":5,"x":0.38,"y":0.2},
{"p":"f","g":6,"x":0.07,"y":0.23},{"p":"f","g":6,"x":0.93,"y":0.13},
{"p":"g","g":1,"x":0.07,"y":0.75},{"p":"g","g":1,"x":0.93,"y":0.82},
{"p":"g","g":2,"x":0.07,"y":0.58},{"p":"g","g":2,"x":0.2,"y":0.5},{"p":"g","g":2,"x":0.28,"y":0.37},{"p":"g","g":2,"x":0.32,"y":0.25},{"p":"g","g":2,"x":0.3,"y":0.17},
{"p":"g","g":3,"x":0.07,"y":0.58},{"p":"g","g":3,"x":0.3,"y":0.52},{"p":"g","g":3,"x":0.45,"y":0.4},{"p":"g","g":3,"x":0.48,"y":0.28},{"p":"g","g":3,"x":0.43,"y":0.17},
{"p":"g","g":4,"x":0.07,"y":0.58},{"p":"g","g":4,"x":0.4,"y":0.55},{"p":"g","g":4,"x":0.55,"y":0.44},{"p":"g","g":4,"x":0.57,"y":0.3},{"p":"g","g":4,"x":0.54,"y":0.18},
{"p":"g","g":5,"x":0.07,"y":0.58},{"p":"g","g":5,"x":0.53,"y":0.61},{"p":"g","g":5,"x":0.72,"y":0.51},{"p":"g","g":5,"x":0.75,"y":0.32},{"p":"g","g":5,"x":0.68,"y":0.17},
{"p":"g","g":6,"x":0.68,"y":0.81},{"p":"g","g":6,"x":0.84,"y":0.8},{"p":"g","g":6,"x":0.905,"y":0.63},{"p":"g","g":6,"x":0.89,"y":0.42},{"p":"g","g":6,"x":0.83,"y":0.22},{"p":"g","g":6,"x":0.78,"y":0.13},
{"p":"g","g":7,"x":0.02,"y":0.18},{"p":"g","g":7,"x":0.98,"y":0.13},
{"p":"h","g":1,"x":0.05,"y":0.665},{"p":"h","g":1,"x":0.95,"y":0.735},
{"p":"h","g":2,"x":0.53,"y":0.7},{"p":"h","g":2,"x":0.76,"y":0.66},{"p":"h","g":2,"x":0.84,"y":0.46},{"p":"h","g":2,"x":0.79,"y":0.29},{"p":"h","g":2,"x":0.67,"y":0.13},
{"p":"h","g":3,"x":0.05,"y":0.45},{"p":"h","g":3,"x":0.3,"y":0.44},{"p":"h","g":3,"x":0.38,"y":0.4},{"p":"h","g":3,"x":0.4,"y":0.3},{"p":"h","g":3,"x":0.38,"y":0.2},{"p":"h","g":3,"x":0.35,"y":0.16},
{"p":"h","g":4,"x":0.36,"y":0.42},{"p":"h","g":4,"x":0.42,"y":0.47},{"p":"h","g":4,"x":0.5,"y":0.43},{"p":"h","g":4,"x":0.5,"y":0.36},{"p":"h","g":4,"x":0.44,"y":0.32},
{"p":"h","g":5,"x":0.45,"y":0.32},{"p":"h","g":5,"x":0.55,"y":0.4},{"p":"h","g":5,"x":0.63,"y":0.42},{"p":"h","g":5,"x":0.67,"y":0.34},{"p":"h","g":5,"x":0.62,"y":0.22},{"p":"h","g":5,"x":0.56,"y":0.16},
{"p":"h","g":6,"x":0.05,"y":0.175},{"p":"h","g":6,"x":0.95,"y":0.125},
{"p":"h","g":7,"x":0.3,"y":0.44},{"p":"h","g":7,"x":0.43,"y":0.5},{"p":"h","g":7,"x":0.47,"y":0.6},{"p":"h","g":7,"x":0.53,"y":0.7}
]},
"facet":{"field":"p","type":"nominal","title":null,"header":{"labelOrient":"bottom","labelExpr":"'(' + datum.value + ')'","labelFont":"Liberation Sans","labelFontWeight":"bold","labelFontSize":9,"labelColor":"#000","labelPadding":11}},
"columns":4,
"bounds":"flush",
"spacing":{"row":61,"column":29.5},
"resolve":{"axis":{"x":"independent","y":"independent"}},
"spec":{
"width":106,"height":103.5,
"encoding":{
"x":{"field":"x","type":"quantitative","scale":{"domain":[0,1]},"axis":{"values":[0,0.2,0.4,0.6,0.8,1],"format":".1f","title":"fmb","titlePadding":3}},
"y":{"field":"y","type":"quantitative","scale":{"domain":[0,1.06]},"axis":{"values":[0,0.2,0.4,0.6,0.8,1],"format":".1f","title":"ω/Rg⁻²","titlePadding":2}}
},
"layer":[
{"transform":[{"filter":"isValid(datum.s)"}],"mark":{"type":"point","filled":true,"size":16,"stroke":"#000","strokeWidth":0.55,"opacity":1},
"encoding":{
"shape":{"field":"s","type":"nominal","legend":null,"scale":{"domain":["0","1","2","3","4","5","6","S"],"range":["circle","circle","circle","triangle-up","M-1,0A1,1,0,0,1,1,0A1,1,0,0,1,-1,0ZM-0.9,-0.9L0.9,0.9M-0.9,0.9L0.9,-0.9","M0,-1L0.951,-0.309L0.588,0.809L-0.588,0.809L-0.951,-0.309Z","circle","M-1,0A1,1,0,0,1,1,0A1,1,0,0,1,-1,0ZM-1,0L1,0"]}},
"fill":{"field":"s","type":"nominal","legend":null,"scale":{"domain":["0","1","2","3","4","5","6","S"],"range":["#ffff00","#22cc22","#1f9f8f","#e040e0","#ffffff","#ffffff","#f08a20","#c8c8c8"]}}
}},
{"transform":[{"filter":"datum.s === '2'"}],"mark":{"type":"point","filled":true,"size":16,"shape":"M-1,0A1,1,0,0,1,1,0Z","fill":"#000","stroke":"#000","strokeWidth":0.55,"opacity":1}},
{"transform":[{"filter":"datum.s === '1'"}],"mark":{"type":"point","filled":true,"size":2.5,"fill":"#000","strokeWidth":0,"opacity":1}},
{"transform":[{"filter":"isValid(datum.g)"}],"mark":{"type":"line","stroke":"#000","strokeWidth":0.9,"strokeDash":[4,2]},"encoding":{"detail":{"field":"g","type":"nominal"},"order":{"value":null}}}
]
}
},
{
"width":506,"height":32,
"view":{"stroke":"#555","strokeWidth":1},
"data":{"values":[{"s":"0","t":"P","n":"0"},{"s":"1","t":"P","n":"1"},{"s":"2","t":"P","n":"2"},{"s":"3","t":"P","n":"3"},{"s":"4","t":"P","n":"4"},{"s":"5","t":"P","n":"5"},{"s":"6","t":"P","n":"6"},{"s":"S","t":"S","n":""}]},
"encoding":{"x":{"field":"s","type":"nominal","axis":null,"scale":{"type":"point","domain":["0","1","2","3","4","5","6","S"],"range":[26,463],"padding":0}}},
"layer":[
{"mark":{"type":"point","filled":true,"size":40,"stroke":"#000","strokeWidth":1,"opacity":1},
"encoding":{
"shape":{"field":"s","type":"nominal","legend":null,"scale":{"domain":["0","1","2","3","4","5","6","S"],"range":["circle","circle","circle","triangle-up","M-1,0A1,1,0,0,1,1,0A1,1,0,0,1,-1,0ZM-0.9,-0.9L0.9,0.9M-0.9,0.9L0.9,-0.9","M0,-1L0.951,-0.309L0.588,0.809L-0.588,0.809L-0.951,-0.309Z","circle","M-1,0A1,1,0,0,1,1,0A1,1,0,0,1,-1,0ZM-1,0L1,0"]}},
"fill":{"field":"s","type":"nominal","legend":null,"scale":{"domain":["0","1","2","3","4","5","6","S"],"range":["#ffff00","#22cc22","#22cc22","#e060e0","#ffffff","#ffffff","#ffb400","#ffffff"]}}
}},
{"transform":[{"filter":"datum.s === '2'"}],"mark":{"type":"point","filled":true,"size":40,"shape":"M-1,0A1,1,0,0,1,1,0Z","fill":"#000","stroke":"#000","strokeWidth":1,"opacity":1}},
{"transform":[{"filter":"datum.s === '1'"}],"mark":{"type":"point","filled":true,"size":5,"fill":"#000","strokeWidth":0,"opacity":1}},
{"mark":{"type":"text","align":"left","dx":10,"fontSize":10.5,"fontWeight":"bold","font":"Liberation Sans","color":"#000"},"encoding":{"text":{"field":"t"}}},
{"mark":{"type":"text","align":"left","dx":17.5,"dy":3,"fontSize":7,"fontWeight":"bold","font":"Liberation Sans","color":"#000"},"encoding":{"text":{"field":"n"}}}
]
}
]
}
